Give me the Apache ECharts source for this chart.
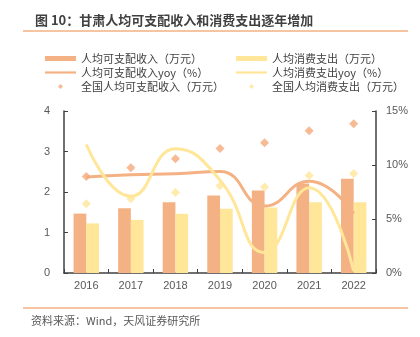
<!DOCTYPE html>
<html>
<head>
<meta charset="utf-8">
<script src="https://cdn.jsdelivr.net/npm/echarts@6/dist/echarts.min.js"></script>
<style>
  html, body { margin: 0; padding: 0; background: #fff; }
  #chart { width: 420px; height: 337px; }
</style>
</head>
<body>
<div id="chart"></div>
<script>
// Years on the category axis
const years = ['2016', '2017', '2018', '2019', '2020', '2021', '2022'];

// Gansu per-capita disposable income and consumption (10k yuan)
const gsIncome = [1.467, 1.601, 1.749, 1.914, 2.034, 2.207, 2.327];
const gsConsumption = [1.225, 1.312, 1.462, 1.588, 1.618, 1.746, 1.749];

// Year-on-year growth (%)
const gsIncomeYoy = [8.9, 9.1, 9.2, 9.4, 6.2, 8.5, 5.5];
const gsConsumptionYoy = [11.9, 7.1, 11.5, 8.6, 1.9, 7.9, 0.2];

// National per-capita disposable income and consumption (10k yuan)
const cnIncome = [2.382, 2.597, 2.823, 3.073, 3.219, 3.513, 3.688];
const cnConsumption = [1.711, 1.832, 1.985, 2.156, 2.121, 2.410, 2.454];

// Axis ticks
const leftTicks = { min: 0, max: 4, interval: 1 };
const rightTicks = { min: 0, max: 15, interval: 5 };

const names = {
  income: '人均可支配收入（万元）',
  consumption: '人均消费支出（万元）',
  incomeYoy: '人均可支配收入yoy（%）',
  consumptionYoy: '人均消费支出yoy（%）',
  cnIncome: '全国人均可支配收入（万元）',
  cnConsumption: '全国人均消费支出（万元）'
};

const ORANGE = '#F4B183';
const ORANGE_DOT = '#F4A97A';
const YELLOW = '#FFE699';
const AXIS = '#404040';
const LABEL = '#595959';
const FONT = '"Noto Sans CJK SC", "Noto Sans", sans-serif';
const NUM_FONT = '"Liberation Sans", Arial, sans-serif';

// Legend glyphs: thin stroke for lines, small diamond for scatter points
const LINE_ICON = 'path://M0,0H31V2.2H0Z';
const DOT_ICON = 'path://M0,-1L1,0L0,1L-1,0Z';

const chart = echarts.init(document.getElementById('chart'), null, { renderer: 'canvas' });

const legendBase = {
  orient: 'vertical',
  top: 48,
  itemWidth: 31,
  itemHeight: 5,
  itemGap: 3,
  symbolKeepAspect: true,
  textStyle: { fontSize: 11, color: AXIS, fontFamily: FONT },
  selectedMode: false
};

chart.setOption({
  animation: false,
  textStyle: { fontFamily: FONT },
  title: {
    text: '图 10：甘肃人均可支配收入和消费支出逐年增加',
    left: 30,
    top: 9,
    textStyle: { fontSize: 13, fontWeight: 'bold', color: '#404040', fontFamily: FONT }
  },
  graphic: [
    { type: 'line', shape: { x1: 23, y1: 31, x2: 408, y2: 31 }, style: { stroke: '#F4B183', lineWidth: 1.5 } },
    { type: 'line', shape: { x1: 23, y1: 308, x2: 408, y2: 308 }, style: { stroke: '#F4B183', lineWidth: 1.5 } },
    { type: 'text', left: 31, top: 315, style: { text: '资料来源：Wind，天风证券研究所', fill: '#595959', font: '11px ' + FONT } }
  ],
  legend: [
    Object.assign({}, legendBase, {
      left: 40,
      data: [
        { name: names.income, icon: 'rect' },
        { name: names.incomeYoy, icon: LINE_ICON },
        { name: names.cnIncome, icon: DOT_ICON }
      ]
    }),
    Object.assign({}, legendBase, {
      left: 231,
      data: [
        { name: names.consumption, icon: 'rect' },
        { name: names.consumptionYoy, icon: LINE_ICON },
        { name: names.cnConsumption, icon: DOT_ICON }
      ]
    })
  ],
  grid: { left: 64, right: 44, top: 111, bottom: 64 },
  xAxis: {
    type: 'category',
    data: years,
    axisLine: { lineStyle: { color: AXIS, width: 1.5 } },
    axisTick: { show: true, inside: true, length: 4, lineStyle: { color: AXIS } },
    axisLabel: { color: LABEL, fontSize: 11, margin: 7, fontFamily: NUM_FONT }
  },
  yAxis: [
    {
      type: 'value',
      min: leftTicks.min, max: leftTicks.max, interval: leftTicks.interval,
      axisLine: { show: true, lineStyle: { color: AXIS, width: 1.5 } },
      axisTick: { show: true, inside: true, length: 4, lineStyle: { color: AXIS } },
      axisLabel: { color: LABEL, fontSize: 11, margin: 14, fontFamily: NUM_FONT },
      splitLine: { show: false }
    },
    {
      type: 'value',
      min: rightTicks.min, max: rightTicks.max, interval: rightTicks.interval,
      position: 'right',
      axisLine: { show: true, lineStyle: { color: AXIS, width: 1.5 } },
      axisTick: { show: true, inside: true, length: 4, lineStyle: { color: AXIS } },
      axisLabel: { color: LABEL, fontSize: 11, margin: 10, fontFamily: NUM_FONT, formatter: '{value}%' },
      splitLine: { show: false }
    }
  ],
  series: [
    {
      name: names.income, type: 'bar', data: gsIncome,
      barGap: '0%', barCategoryGap: '43%',
      itemStyle: { color: ORANGE }
    },
    {
      name: names.consumption, type: 'bar', data: gsConsumption,
      itemStyle: { color: YELLOW }
    },
    {
      name: names.incomeYoy, type: 'line', yAxisIndex: 1, data: gsIncomeYoy,
      smooth: true, symbol: 'none', z: 3,
      lineStyle: { color: ORANGE, width: 3 }, itemStyle: { color: ORANGE }
    },
    {
      name: names.consumptionYoy, type: 'line', yAxisIndex: 1, data: gsConsumptionYoy,
      smooth: true, symbol: 'none', z: 3,
      lineStyle: { color: YELLOW, width: 3 }, itemStyle: { color: YELLOW }
    },
    {
      name: names.cnIncome, type: 'scatter', data: cnIncome,
      symbol: 'diamond', symbolSize: 9, z: 4,
      itemStyle: { color: ORANGE_DOT }
    },
    {
      name: names.cnConsumption, type: 'scatter', data: cnConsumption,
      symbol: 'diamond', symbolSize: 9, z: 4,
      itemStyle: { color: YELLOW }
    }
  ]
});
</script>
</body>
</html>
